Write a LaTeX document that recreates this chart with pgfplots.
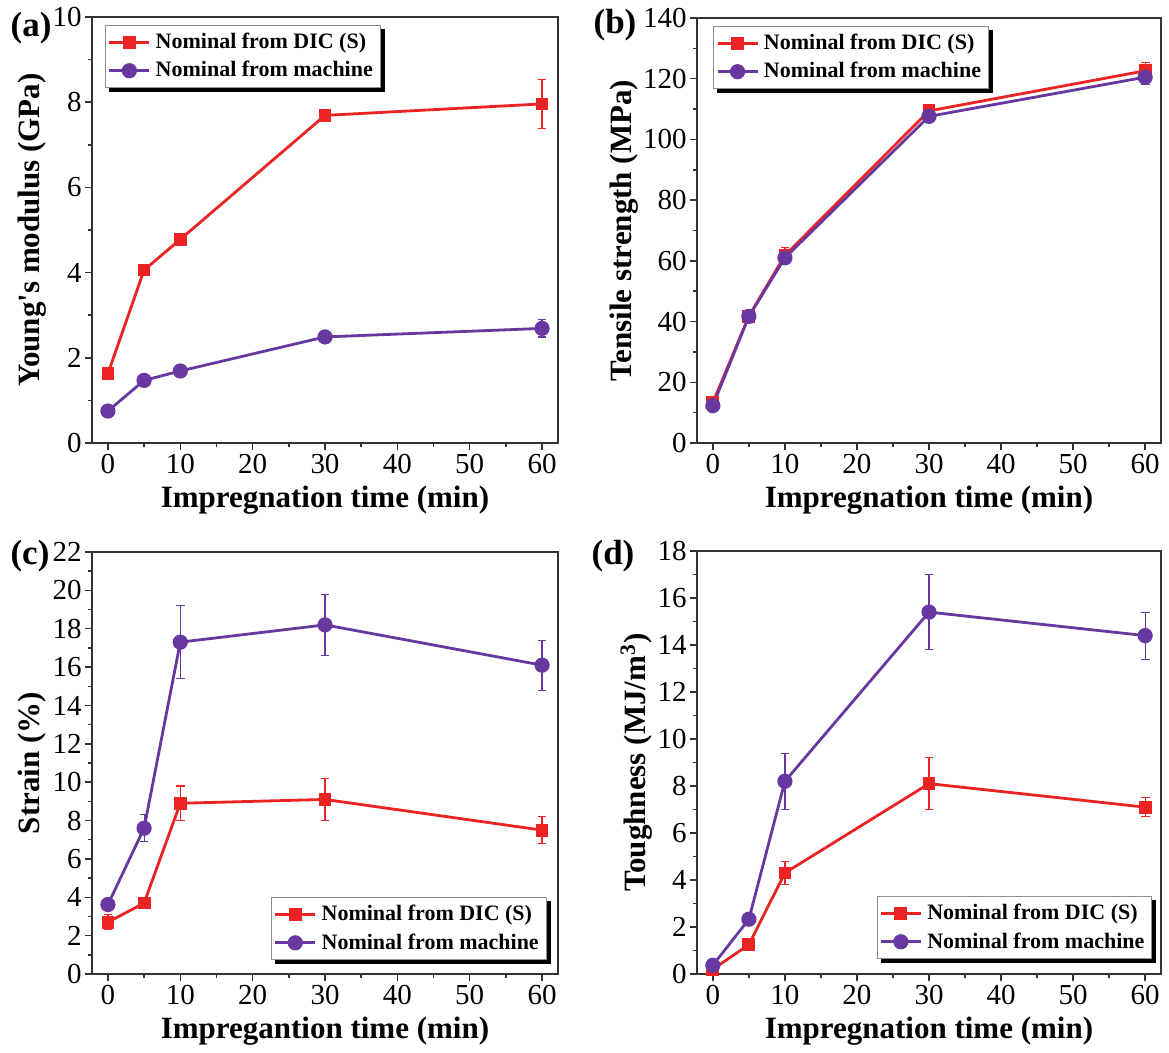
\documentclass[border=0pt]{standalone}
\usepackage{fontspec}
\setmainfont{Liberation Serif}
\usepackage{pgfplots}
\pgfplotsset{compat=1.18}

\definecolor{dicred}{RGB}{235,35,35}
\definecolor{machpurple}{RGB}{105,55,160}

% Origin-like shadow: strips below and right of the named legend
\newcommand{\legshadow}[1]{%
  \fill[black] ([shift={(2pt,0pt)}]#1.south west) rectangle ([shift={(2pt,-2pt)}]#1.south east);
  \fill[black] (#1.south east) rectangle ([shift={(2pt,-2pt)}]#1.north east);}

\pgfplotsset{
  panel/.style={
    scale only axis, anchor=south west, clip=false,
    axis line style={line width=0.75pt, black!80},
    tick style={line width=0.75pt, black!80},
    tick align=outside, xtick pos=lower, ytick pos=left,
    major tick length=3.5pt, minor tick length=2pt,
    xmin=-2.2, xmax=62.2,
    xtick={0,10,...,60}, minor x tick num=1,
    minor y tick num=1,
    /pgf/number format/assume math mode=true,
    ticklabel style={font=\fontsize{14.5}{14.5}\selectfont},
    yticklabel style={inner xsep=1.5pt},
    xticklabel style={inner ysep=2pt},
    label style={font=\bfseries\fontsize{15.5}{16}\selectfont},
    xlabel style={at={(axis description cs:0.5,-0.135)}, anchor=center},
    legend cell align=left,
    legend style={font=\bfseries\fontsize{11}{12}\selectfont, draw=black!45, fill=white,
      line width=0.5pt, anchor=north west, inner xsep=1.2pt, inner ysep=1.5pt,
      row sep=0pt, nodes={inner ysep=2.4pt, inner xsep=2.5pt}},
    legend image code/.code={\draw[mark repeat=2,mark phase=2,##1] plot coordinates {(0pt,0pt) (10pt,0pt) (20pt,0pt)};},
  },
  dic/.style={dicred, line width=1.4pt, mark=square*, mark size=2.5pt, mark options={solid},
    error bars/.cd, y dir=both, y explicit,
    error bar style={line width=0.6pt},
    error mark options={rotate=90, mark size=2.2pt, line width=0.6pt}},
  mach/.style={machpurple, line width=1.4pt, mark=*, mark size=3.1pt, mark options={solid},
    error bars/.cd, y dir=both, y explicit,
    error bar style={line width=0.6pt},
    error mark options={rotate=90, mark size=2.2pt, line width=0.6pt}},
}

\begin{document}
\begin{tikzpicture}
\useasboundingbox (0pt,0pt) rectangle (584.5pt,-526.5pt);

% (a) Young's modulus
\begin{axis}[panel, at={(46pt,-221.5pt)}, width=233pt, height=213pt,
  ymin=0, ymax=10, ytick={0,2,...,10},
  xlabel={Impregnation time (min)}, ylabel={Young\textquotesingle s modulus (GPa)},
  ylabel style={at={(axis description cs:-0.129,0.5)}, anchor=center},
  legend style={at={(0.028,0.981)}, name=lega}]
\addplot+[dic] table[x=t, y=v, y error=e] {
t  v    e
0  1.63 0.05
5  4.06 0.05
10 4.78 0.05
30 7.69 0.08
60 7.96 0.58
};
\addplot+[mach] table[x=t, y=v, y error=e] {
t  v    e
0  0.75 0.03
5  1.47 0.03
10 1.69 0.03
30 2.49 0.03
60 2.69 0.20
};
\legend{Nominal from DIC (S), Nominal from machine}
\end{axis}
\legshadow{lega}

% (b) Tensile strength
\begin{axis}[panel, at={(348.5pt,-221.5pt)}, width=232pt, height=212.5pt,
  ymin=0, ymax=140, ytick={0,20,...,140},
  xlabel={Impregnation time (min)}, ylabel={Tensile strength (MPa)},
  ylabel style={at={(axis description cs:-0.157,0.5)}, anchor=center},
  legend style={at={(0.035,0.981)}, name=legb}]
\addplot+[dic] table[x=t, y=v, y error=e] {
t  v     e
0  13.3  1.0
5  41.8  1.2
10 61.8  2.5
30 109.4 1.0
60 122.6 2.7
};
\addplot+[mach] table[x=t, y=v, y error=e] {
t  v     e
0  12.3  0.8
5  41.7  1.0
10 61.0  2.0
30 107.6 1.0
60 120.5 2.5
};
\legend{Nominal from DIC (S), Nominal from machine}
\end{axis}
\legshadow{legb}

% (c) Strain
\begin{axis}[panel, at={(46pt,-487pt)}, width=233pt, height=211pt,
  ymin=0, ymax=22, ytick={0,2,...,22},
  xlabel={Impregantion time (min)}, ylabel={Strain (\%)},
  ylabel style={at={(axis description cs:-0.129,0.5)}, anchor=center},
  legend style={at={(0.384,0.182)}, name=legc}]
\addplot+[dic] table[x=t, y=v, y error=e] {
t  v    e
0  2.7  0.4
5  3.7  0.15
10 8.9  0.9
30 9.1  1.1
60 7.5  0.7
};
\addplot+[mach] table[x=t, y=v, y error=e] {
t  v    e
0  3.62 0.3
5  7.6  0.7
10 17.3 1.9
30 18.2 1.6
60 16.1 1.3
};
\legend{Nominal from DIC (S), Nominal from machine}
\end{axis}
\legshadow{legc}

% (d) Toughness
\begin{axis}[panel, at={(348.5pt,-487pt)}, width=232pt, height=211.5pt,
  ymin=0, ymax=18, ytick={0,2,...,18},
  xlabel={Impregnation time (min)}, ylabel={Toughness (MJ/m\textsuperscript{3})},
  ylabel style={at={(axis description cs:-0.131,0.5)}, anchor=center},
  legend style={at={(0.387,0.184)}, name=legd}]
\addplot+[dic] table[x=t, y=v, y error=e] {
t  v    e
0  0.2  0.1
5  1.25 0.1
10 4.3  0.5
30 8.1  1.1
60 7.1  0.4
};
\addplot+[mach] table[x=t, y=v, y error=e] {
t  v    e
0  0.37 0.1
5  2.33 0.2
10 8.2  1.2
30 15.4 1.6
60 14.4 1.0
};
\legend{Nominal from DIC (S), Nominal from machine}
\end{axis}
\legshadow{legd}

% panel letters
\node[font=\bfseries\fontsize{17.5}{17.5}\selectfont] at (15.5pt,-14pt) {(a)};
\node[font=\bfseries\fontsize{17.5}{17.5}\selectfont] at (307.5pt,-12.5pt) {(b)};
\node[font=\bfseries\fontsize{17.5}{17.5}\selectfont] at (15pt,-278pt) {(c)};
\node[font=\bfseries\fontsize{17.5}{17.5}\selectfont] at (306.5pt,-278pt) {(d)};
\end{tikzpicture}
\end{document}
